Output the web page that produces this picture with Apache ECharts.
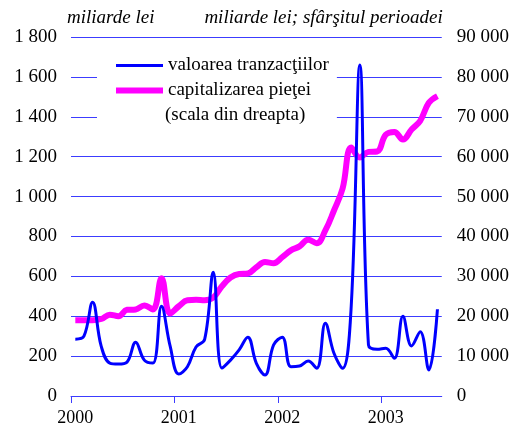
<!DOCTYPE html>
<html>
<head>
<meta charset="utf-8">
<script src="https://cdn.jsdelivr.net/npm/echarts@6/dist/echarts.min.js"></script>
<style>
html, body { margin: 0; padding: 0; background: #fff; }
#chart { width: 512px; height: 428px; }
</style>
</head>
<body>
<div id="chart"></div>
<script>
// luni: ianuarie 2000 - iulie 2003
const months = []
for (let y = 2000; y <= 2003; y++) {
  for (let m = 1; m <= 12; m++) {
    if (y === 2003 && m > 7) break
    months.push(y + '-' + (m < 10 ? '0' + m : m))
  }
}

// valoarea tranzactiilor, miliarde lei (scala din stanga)
const tranzactii = [
  285, 300, 470, 250, 165, 160, 170, 270, 180, 165, 450, 250,
  110, 147, 246, 284, 620, 140, 180, 231, 295, 164, 105, 256,
  295, 147, 150, 175, 139, 365, 214, 139, 450, 1660, 256, 234,
  239, 189, 400, 251, 322, 130, 435
]

// capitalizarea pietei, miliarde lei, sfarsitul perioadei (scala din dreapta)
const capitalizare = [
  19000, 19000, 19000, 19300, 20400, 20000, 21600, 21700, 22700, 21700, 29500, 20700,
  22500, 24000, 24100, 24000, 24700, 27500, 29700, 30600, 30700, 32300, 33600, 33300,
  34800, 36500, 37500, 39200, 38300, 41500, 46500, 52000, 62300, 59800, 61200, 61300,
  65500, 66200, 64300, 66800, 69000, 73500, 75200
]

const yearTicks = [0, 12, 24, 36]
const yearLabels = ['2000', '2001', '2002', '2003']

const FONT = 'Liberation Serif'
const BLUE = '#0000ff'
const GRID_BLUE = '#3c3cff'

// separator de mii cu spatiu: 1 800, 90 000
function fmt(v) {
  return String(v).replace(/\B(?=(\d{3})+(?!\d))/g, ' ')
}

const chart = echarts.init(document.getElementById('chart'))

const option = {
  backgroundColor: '#fff',
  animation: false,
  textStyle: { fontFamily: FONT },
  grid: { left: 71, right: 70, top: 37, bottom: 32, containLabel: false },
  legend: {
    orient: 'vertical',
    left: 97,
    top: 50,
    backgroundColor: '#fff',
    padding: [6, 8, 32, 16],
    itemGap: 6,
    itemWidth: 47,
    itemHeight: 16,
    textStyle: { fontFamily: FONT, fontSize: 19, color: '#000' },
    lineStyle: { width: 'inherit' },
    itemStyle: { opacity: 0 },
    data: ['valoarea tranzacţiilor', 'capitalizarea pieţei']
  },
  graphic: [{
    type: 'text',
    left: 165,
    top: 106,
    z: 10,
    style: { text: '(scala din dreapta)', fontFamily: FONT, fontSize: 19, fill: '#000' }
  }],
  xAxis: {
    type: 'value',
    min: 0,
    max: months.length,
    splitLine: { show: false },
    axisLine: { show: true, lineStyle: { color: GRID_BLUE, width: 1 } },
    axisTick: { show: true, length: 7, inside: false, customValues: yearTicks, lineStyle: { color: GRID_BLUE } },
    axisLabel: {
      // etichetele stau pe prima luna a anului
      customValues: yearTicks.map(t => t + 0.5),
      formatter: v => yearLabels[Math.floor(v / 12)],
      color: '#000',
      fontFamily: FONT,
      fontSize: 18,
      margin: 13
    }
  },
  yAxis: [
    {
      type: 'value',
      min: 0,
      max: 1800,
      interval: 200,
      name: 'miliarde lei',
      nameLocation: 'end',
      nameGap: 19,
      nameTextStyle: { fontFamily: FONT, fontSize: 19, fontStyle: 'italic', color: '#000', align: 'left', verticalAlign: 'middle', padding: [0, 0, 0, -4] },
      axisLine: { show: false },
      axisTick: { show: false },
      axisLabel: { formatter: fmt, color: '#000', fontFamily: FONT, fontSize: 19, margin: 14 },
      splitLine: { show: true, lineStyle: { color: GRID_BLUE, width: 1 } }
    },
    {
      type: 'value',
      min: 0,
      max: 90000,
      interval: 10000,
      name: 'miliarde lei; sfârşitul perioadei',
      nameLocation: 'end',
      nameGap: 19,
      nameTextStyle: { fontFamily: FONT, fontSize: 19, fontStyle: 'italic', color: '#000', align: 'right', verticalAlign: 'middle', padding: [0, -1, 0, 0] },
      axisLine: { show: false },
      axisTick: { show: false },
      axisLabel: { formatter: fmt, color: '#000', fontFamily: FONT, fontSize: 19, margin: 15 },
      splitLine: { show: false }
    }
  ],
  series: [
    {
      name: 'capitalizarea pieţei',
      type: 'line',
      yAxisIndex: 1,
      data: capitalizare.map((v, i) => [i + 0.5, v]),
      smooth: 0.4,
      symbol: 'none',
      lineStyle: { color: '#ff00ff', width: 6 },
      itemStyle: { color: '#ff00ff' },
      z: 2
    },
    {
      name: 'valoarea tranzacţiilor',
      type: 'line',
      yAxisIndex: 0,
      data: tranzactii.map((v, i) => [i + 0.5, v]),
      smooth: 0.4,
      symbol: 'none',
      lineStyle: { color: BLUE, width: 3 },
      itemStyle: { color: BLUE },
      z: 3
    }
  ]
}

chart.setOption(option)
</script>
</body>
</html>
